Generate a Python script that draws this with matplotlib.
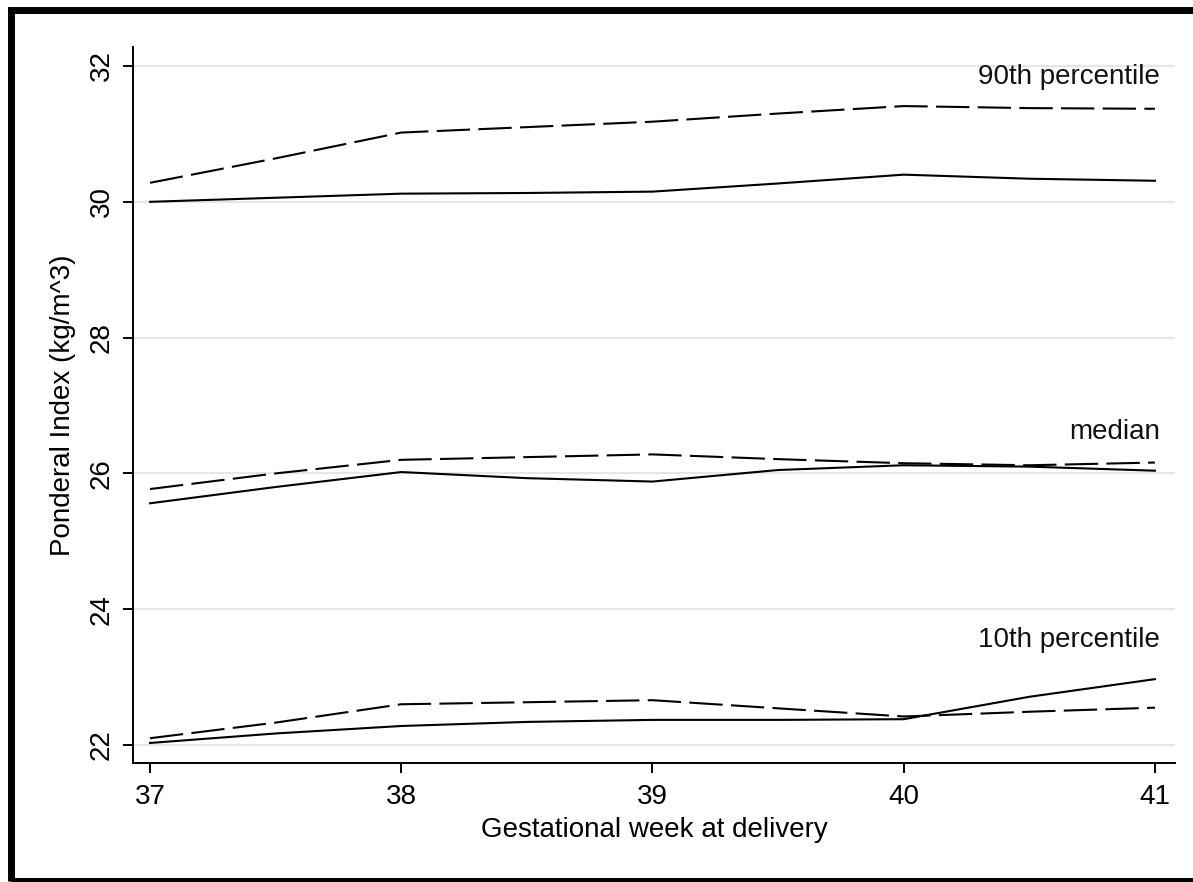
import numpy as np
import matplotlib.pyplot as plt
from matplotlib.patches import Rectangle

plt.rcParams['font.family'] = ['Liberation Sans', 'DejaVu Sans']

# Gestational week (read at half-week steps from the figure)
weeks = [37, 37.5, 38, 38.5, 39, 39.5, 40, 40.5, 41]

# Ponderal index, dashed and solid curves for each percentile
p90_dash = [30.28, 30.64, 31.02, 31.10, 31.18, 31.30, 31.41, 31.38, 31.37]
p90_solid = [30.00, 30.06, 30.12, 30.13, 30.15, 30.27, 30.40, 30.34, 30.31]
med_dash = [25.77, 26.00, 26.20, 26.24, 26.28, 26.21, 26.15, 26.12, 26.16]
med_solid = [25.56, 25.80, 26.02, 25.93, 25.88, 26.05, 26.12, 26.10, 26.04]
p10_dash = [22.10, 22.33, 22.60, 22.63, 22.66, 22.54, 22.42, 22.49, 22.55]
p10_solid = [22.03, 22.17, 22.28, 22.34, 22.37, 22.37, 22.38, 22.71, 22.97]

labels = ['90th percentile', 'median', '10th percentile']
label_y = [31.84, 26.61, 23.55]

xticks = [37, 38, 39, 40, 41]
yticks = [22, 24, 26, 28, 30, 32]

fig = plt.figure(figsize=(11.93, 8.82), dpi=100)
ax = fig.add_axes([133 / 1193, 119 / 882, (1175 - 133) / 1193, (763 - 47) / 882])

for y in yticks:
    ax.axhline(y, color='#e6e6e6', lw=1.5, zorder=0)

lw = 1.5
for dash, solid in [(p90_dash, p90_solid), (med_dash, med_solid), (p10_dash, p10_solid)]:
    ax.plot(weeks, solid, color='black', lw=lw)
    ax.plot(weeks, dash, color='black', lw=lw, dashes=(16, 4))

for lab, y in zip(labels, label_y):
    ax.text(41.02, y, lab, ha='right', va='center', fontsize=20, color='#111111')

ax.set_xlim(36.932, 41.08)
ax.set_ylim(21.735, 32.28)
ax.set_xticks(xticks)
ax.set_yticks(yticks)
ax.tick_params(axis='both', labelsize=20, length=7, width=1.4, color='black')
ax.tick_params(axis='x', pad=8)
ax.tick_params(axis='y', pad=6)
plt.setp(ax.get_yticklabels(), rotation=90, va='center')

for s in ['top', 'right']:
    ax.spines[s].set_visible(False)
for s in ['left', 'bottom']:
    ax.spines[s].set_linewidth(1.4)

ax.set_xlabel('Gestational week at delivery', fontsize=20, labelpad=5)
ax.set_ylabel('Ponderal Index (kg/m^3)', fontsize=20, labelpad=9)

# thick outer frame
fig.patches.append(Rectangle((10.5 / 1193, 1 - 881 / 882), 1.05, (881 - 9.5) / 882,
                             transform=fig.transFigure, fill=False,
                             edgecolor='black', lw=5, clip_on=False))

fig.savefig('out.png', dpi=100)
